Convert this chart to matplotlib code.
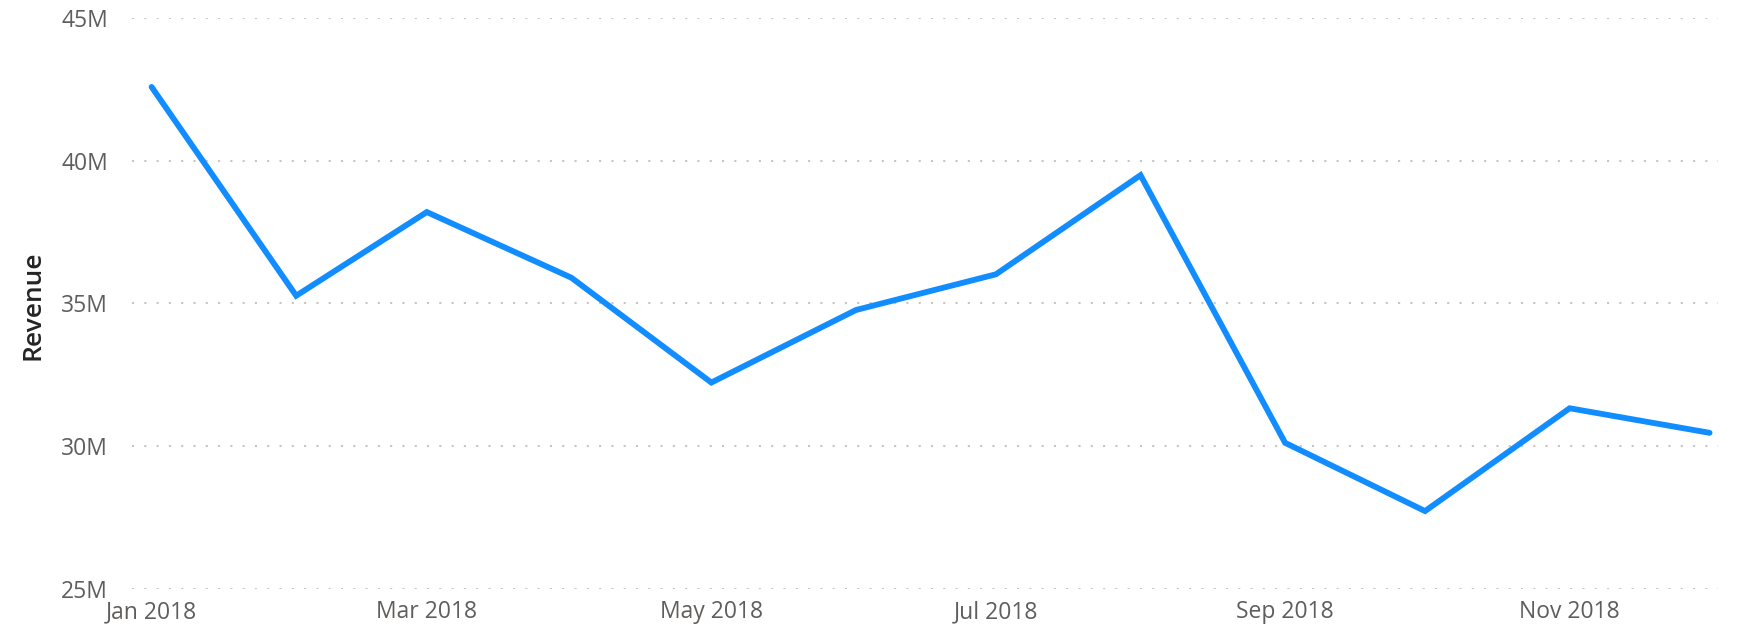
import pandas as pd
import matplotlib
matplotlib.use("Agg")
import matplotlib.pyplot as plt
import matplotlib.dates as mdates
from matplotlib.ticker import FuncFormatter, MultipleLocator

DPI = 100

months = pd.date_range("2018-01-01", periods=12, freq="MS")
revenue = [42.58, 35.27, 38.20, 35.90, 32.23, 34.77,
           36.02, 39.49, 30.12, 27.73, 31.33, 30.47]  # millions
tick_months = pd.date_range("2018-01-01", periods=6, freq="2MS")

plt.rcParams['font.family'] = ['Open Sans', 'DejaVu Sans']

fig = plt.figure(figsize=(1749 / DPI, 630 / DPI), dpi=DPI)
ax = fig.add_axes([0.0752, 0.065, 0.9068, 0.9067])

ax.plot(months, revenue, color='#118DFF', lw=4.2,
        solid_capstyle='round', solid_joinstyle='miter', zorder=3)

ax.set_ylim(25, 45)
ax.set_xlim(months[0] - pd.Timedelta(days=4.3), months[-1] + pd.Timedelta(days=1.7))
ax.yaxis.set_major_locator(MultipleLocator(5))
ax.yaxis.set_major_formatter(FuncFormatter(lambda v, p: f"{v:.0f}M"))
ax.set_xticks(tick_months)
ax.xaxis.set_major_formatter(mdates.DateFormatter('%b %Y'))

ax.grid(axis='y', color='#C8C6C4', lw=1.5, linestyle=(0, (1, 4.9)))
ax.grid(axis='x', visible=False)
for s in ax.spines.values():
    s.set_visible(False)
ax.tick_params(length=0, labelsize=16.5, labelcolor='#605E5C')
ax.tick_params(axis='y', pad=17)
ax.tick_params(axis='x', pad=8)

fig.text(33 / 1749, 0.515, 'Revenue', rotation=90, ha='center', va='center',
         fontsize=19, color='#252423', fontweight='semibold')

fig.savefig('out.png', dpi=DPI)
